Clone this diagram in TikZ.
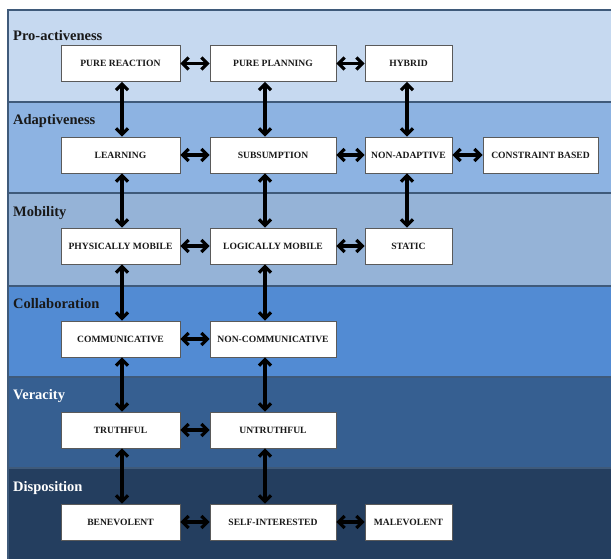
\documentclass[tikz,border=0pt]{standalone}
\usepackage{fontspec}
\setmainfont{Liberation Serif}
\usetikzlibrary{arrows.meta}
\definecolor{bandA}{HTML}{C6D9F0}
\definecolor{bandB}{HTML}{8DB3E2}
\definecolor{bandC}{HTML}{95B3D7}
\definecolor{bandD}{HTML}{528BD3}
\definecolor{bandE}{HTML}{365F91}
\definecolor{bandF}{HTML}{243E5F}
\definecolor{bandline}{HTML}{3F5A7A}
\definecolor{boxline}{HTML}{5A5A5A}
\tikzset{
  band/.style={draw=bandline, line width=1.2pt},
  sect/.style={anchor=west, font=\bfseries\fontsize{14.5}{16}\selectfont, inner sep=0pt},
  cbox/.style={draw=boxline, fill=white, line width=0.9pt, minimum height=36pt,
    inner sep=0pt, font=\bfseries\fontsize{9.6}{10}\selectfont, text=black!90},
  link/.style={{Straight Barb[length=6pt,width=12pt]}-{Straight Barb[length=6pt,width=12pt]}, line width=3.2pt, black}
}
\begin{document}
\begin{tikzpicture}[x=1pt,y=-1pt]
\useasboundingbox (0,0) rectangle (611,559);
\fill[white] (0,0) rectangle (611,559);
% bands
\filldraw[band, fill=bandA] (8,10) rectangle (615,102);
\filldraw[band, fill=bandB] (8,102) rectangle (615,193);
\filldraw[band, fill=bandC] (8,193) rectangle (615,286);
\filldraw[band, fill=bandD] (8,286) rectangle (615,377);
\filldraw[band, fill=bandE] (8,377) rectangle (615,468);
\filldraw[band, fill=bandF] (8,468) rectangle (615,565);
% section labels
\node[sect, text=black!90] (s1) at (13,36) {Pro-activeness};
\node[sect, text=black!90] (s2) at (13,121) {Adaptiveness};
\node[sect, text=black!90] (s3) at (13,213) {Mobility};
\node[sect, text=black!90] (s4) at (13,304) {Collaboration};
\node[sect, text=white] (s5) at (13,396) {Veracity};
\node[sect, text=white] (s6) at (13,488) {Disposition};
% boxes
\node[cbox, minimum width=119pt] (pr) at (120.5,63.5) {PURE REACTION};
\node[cbox, minimum width=126pt] (pp) at (273,63.5) {PURE PLANNING};
\node[cbox, minimum width=87pt]  (hy) at (408.5,63.5) {HYBRID};
\node[cbox, minimum width=119pt] (le) at (120.5,155) {LEARNING};
\node[cbox, minimum width=126pt] (su) at (273,155) {SUBSUMPTION};
\node[cbox, minimum width=87pt]  (na) at (408.5,155) {NON-ADAPTIVE};
\node[cbox, minimum width=115pt] (cb) at (540.5,155) {CONSTRAINT BASED};
\node[cbox, minimum width=119pt] (pm) at (120.5,246) {PHYSICALLY MOBILE};
\node[cbox, minimum width=126pt] (lm) at (273,246) {LOGICALLY MOBILE};
\node[cbox, minimum width=87pt]  (st) at (408.5,246) {STATIC};
\node[cbox, minimum width=119pt] (co) at (120.5,339) {COMMUNICATIVE};
\node[cbox, minimum width=126pt] (nc) at (273,339) {NON-COMMUNICATIVE};
\node[cbox, minimum width=119pt] (tr) at (120.5,430) {TRUTHFUL};
\node[cbox, minimum width=126pt] (un) at (273,430) {UNTRUTHFUL};
\node[cbox, minimum width=119pt] (be) at (120.5,522) {BENEVOLENT};
\node[cbox, minimum width=126pt] (si) at (273,522) {SELF-INTERESTED};
\node[cbox, minimum width=87pt]  (ma) at (408.5,522) {MALEVOLENT};
% horizontal links
\draw[link] (pr) -- (pp);
\draw[link] (pp) -- (hy);
\draw[link] (le) -- (su);
\draw[link] (su) -- (na);
\draw[link] (na) -- (cb);
\draw[link] (pm) -- (lm);
\draw[link] (lm) -- (st);
\draw[link] (co) -- (nc);
\draw[link] (tr) -- (un);
\draw[link] (be) -- (si);
\draw[link] (si) -- (ma);
% vertical links
\draw[link] ([xshift=1.5pt]pr.south) -- ([xshift=1.5pt]le.north);
\draw[link] ([xshift=1.5pt]le.south) -- ([xshift=1.5pt]pm.north);
\draw[link] ([xshift=1.5pt]pm.south) -- ([xshift=1.5pt]co.north);
\draw[link] ([xshift=1.5pt]co.south) -- ([xshift=1.5pt]tr.north);
\draw[link] ([xshift=1.5pt]tr.south) -- ([xshift=1.5pt]be.north);
\draw[link] ([xshift=-8pt]pp.south) -- ([xshift=-8pt]su.north);
\draw[link] ([xshift=-8pt]su.south) -- ([xshift=-8pt]lm.north);
\draw[link] ([xshift=-8pt]lm.south) -- ([xshift=-8pt]nc.north);
\draw[link] ([xshift=-8pt]nc.south) -- ([xshift=-8pt]un.north);
\draw[link] ([xshift=-8pt]un.south) -- ([xshift=-8pt]si.north);
\draw[link] ([xshift=-1.5pt]hy.south) -- ([xshift=-1.5pt]na.north);
\draw[link] ([xshift=-1.5pt]na.south) -- ([xshift=-1.5pt]st.north);
\end{tikzpicture}
\end{document}
